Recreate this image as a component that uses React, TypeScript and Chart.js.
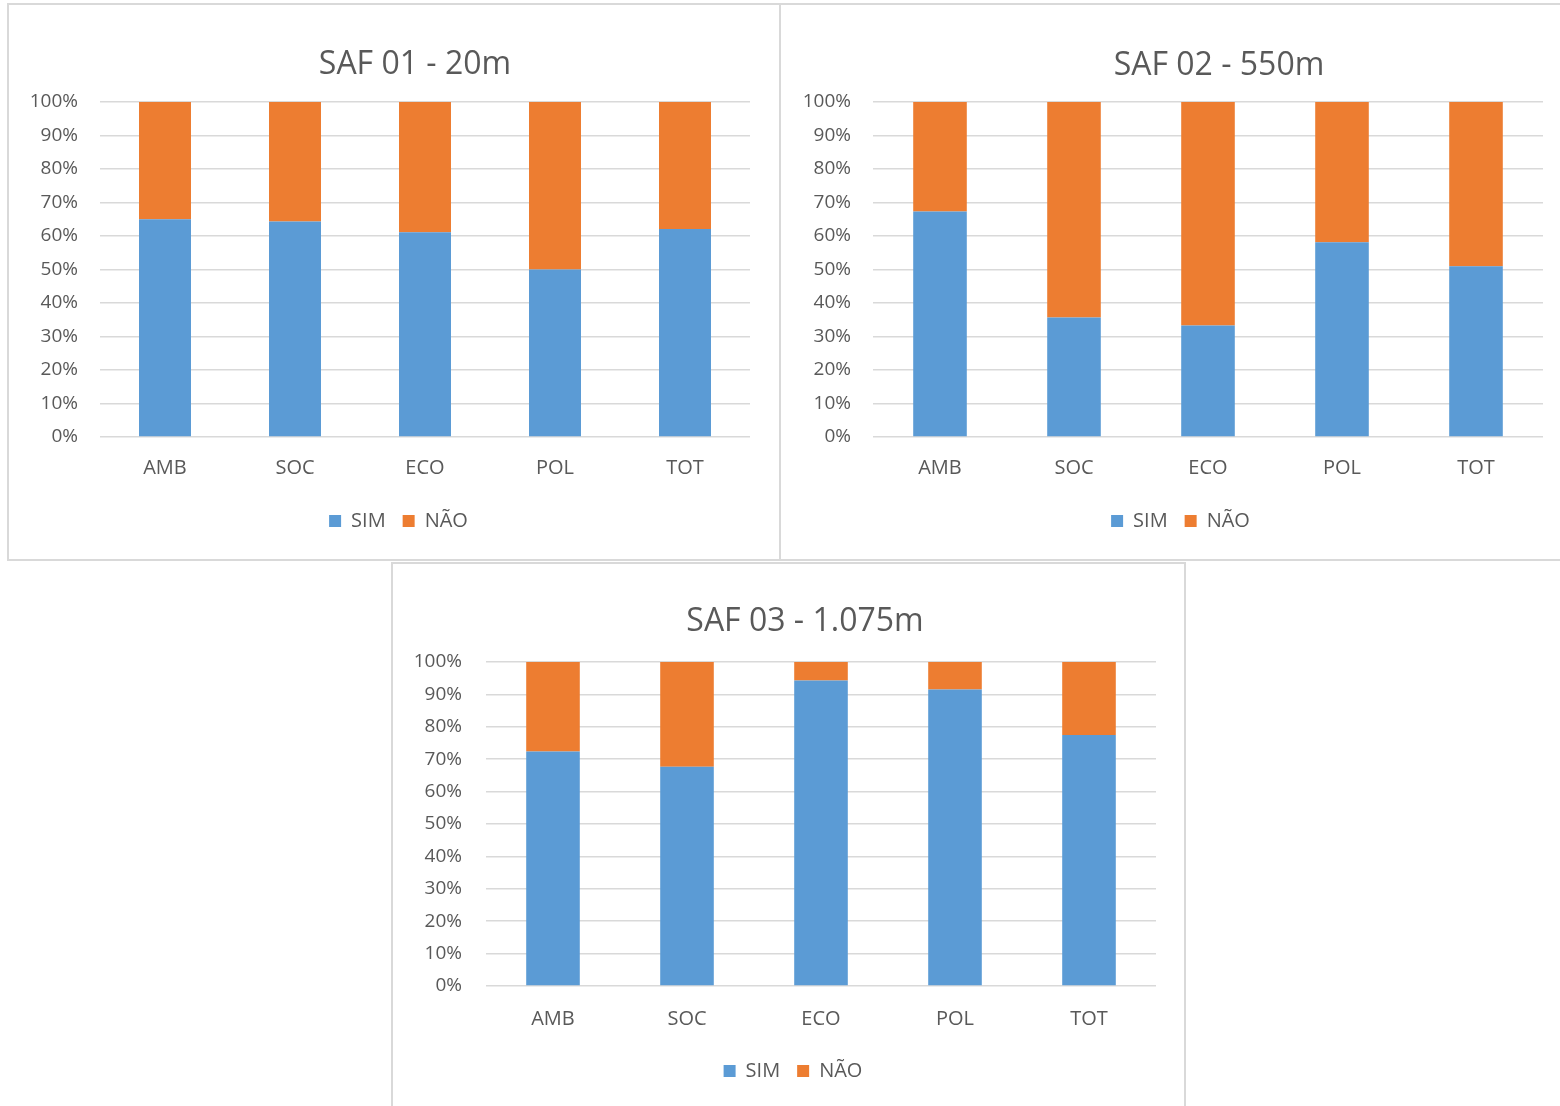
import React, { useEffect, useRef } from "react";
import { Chart, registerables } from "chart.js";

Chart.register(...registerables);

// Categories and series shared by the three SAF panels
const categories = ["AMB", "SOC", "ECO", "POL", "TOT"];
const seriesNames = ["SIM", "NÃO"];

// Share of answers (%) per category
const saf01Sim = [65.0, 64.3, 61.1, 50.0, 62.1];
const saf01Nao = [35.0, 35.7, 38.9, 50.0, 37.9];

const saf02Sim = [67.3, 35.7, 33.3, 58.1, 51.0];
const saf02Nao = [32.7, 64.3, 66.7, 41.9, 49.0];

const saf03Sim = [72.4, 67.7, 94.3, 91.5, 77.5];
const saf03Nao = [27.6, 32.3, 5.7, 8.5, 22.5];

// Value axis: 0% .. 100% every 10%
const yMin = 0;
const yMax = 100;
const yStep = 10;

const FONT = "'Open Sans', 'Noto Sans', sans-serif";
const TEXT = "#595959";
const GRID = "#d9d9d9";
const BLUE = "#5b9bd5";
const ORANGE = "#ed7d31";

type Layout = {
  left: number;
  top: number;
  width: number;
  height: number;
  canvasWidth: number;
  canvasHeight: number;
  titleX: number;
  titleY: number;
  padR: number;
  padT: number;
  padB: number;
  yAxisWidth: number;
  rightGutter: number;
  xAxisHeight: number;
  yTickPad: number;
  xTickPad: number;
};

type PanelProps = {
  title: string;
  sim: number[];
  nao: number[];
  layout: Layout;
};

function StackedPanel({ title, sim, nao, layout }: PanelProps) {
  const canvasRef = useRef<HTMLCanvasElement | null>(null);

  useEffect(() => {
    const canvas = canvasRef.current;
    if (!canvas) return;
    const chart = new Chart(canvas, {
      type: "bar",
      data: {
        labels: categories,
        datasets: [
          {
            label: seriesNames[0],
            data: sim,
            backgroundColor: BLUE,
            borderWidth: 0,
            barPercentage: 0.4,
            categoryPercentage: 1,
          },
          {
            label: seriesNames[1],
            data: nao,
            backgroundColor: ORANGE,
            borderWidth: 0,
            barPercentage: 0.4,
            categoryPercentage: 1,
          },
        ],
      },
      options: {
        responsive: false,
        animation: false,
        layout: {
          padding: {
            left: 0,
            right: layout.padR,
            top: layout.padT,
            bottom: layout.padB,
          },
        },
        plugins: {
          title: { display: false },
          tooltip: { enabled: false },
          legend: {
            display: true,
            position: "bottom",
            labels: {
              boxWidth: 12,
              boxHeight: 12,
              padding: 17,
              color: TEXT,
              font: { family: FONT, size: 20 },
            },
          },
        },
        scales: {
          x: {
            stacked: true,
            grid: { display: false, drawTicks: false },
            border: { display: false },
            ticks: {
              color: TEXT,
              padding: layout.xTickPad,
              font: { family: FONT, size: 20 },
            },
            afterFit: (scale: any) => {
              scale.height = layout.xAxisHeight;
            },
          },
          y: {
            stacked: true,
            min: yMin,
            max: yMax,
            grid: { color: GRID, lineWidth: 1.5, drawTicks: false },
            border: { display: false },
            ticks: {
              stepSize: yStep,
              color: TEXT,
              padding: layout.yTickPad,
              font: { family: FONT, size: 19 },
              callback: (v: any) => `${v}%`,
            },
            afterFit: (scale: any) => {
              scale.width = layout.yAxisWidth;
            },
          },
          // empty gutter on the right of the plot area
          gutter: {
            type: "linear",
            position: "right",
            display: true,
            grid: { display: false, drawTicks: false },
            border: { display: false },
            ticks: { display: false },
            afterFit: (scale: any) => {
              scale.width = layout.rightGutter;
            },
          },
        },
      },
    });
    return () => chart.destroy();
  }, [sim, nao, layout]);

  return (
    <>
      <div
        style={{
          position: "absolute",
          left: layout.left,
          top: layout.top,
          width: layout.width,
          height: layout.height,
          border: `2px solid ${GRID}`,
          boxSizing: "border-box",
          background: "#fff",
        }}
      >
        <canvas
          ref={canvasRef}
          width={layout.canvasWidth}
          height={layout.canvasHeight}
          style={{ display: "block", width: layout.canvasWidth, height: layout.canvasHeight }}
        />
      </div>
      <div
        style={{
          position: "absolute",
          left: layout.titleX,
          top: layout.titleY - 21,
          transform: "translateX(-50%)",
          fontFamily: FONT,
          fontSize: 32,
          lineHeight: "40px",
          color: TEXT,
          whiteSpace: "nowrap",
        }}
      >
        {title}
      </div>
    </>
  );
}

const layout01: Layout = {
  left: 7, top: 3, width: 775, height: 558, canvasWidth: 780, canvasHeight: 554,
  titleX: 415, titleY: 63,
  padR: 1, padT: 97, padB: 18,
  yAxisWidth: 91, rightGutter: 38, xAxisHeight: 57, yTickPad: 22, xTickPad: 19,
};

const layout02: Layout = {
  left: 779, top: 3, width: 803, height: 558, canvasWidth: 799, canvasHeight: 554,
  titleX: 1219, titleY: 64,
  padR: 0, padT: 97, padB: 18,
  yAxisWidth: 92, rightGutter: 37, xAxisHeight: 57, yTickPad: 22, xTickPad: 19,
};

const layout03: Layout = {
  left: 391, top: 562, width: 795, height: 600, canvasWidth: 800, canvasHeight: 542,
  titleX: 805, titleY: 620,
  padR: 0, padT: 98, padB: 15,
  yAxisWidth: 93, rightGutter: 37, xAxisHeight: 58, yTickPad: 24, xTickPad: 21,
};

export default function App() {
  return (
    <div
      style={{
        position: "absolute",
        left: 0,
        top: 0,
        width: 1560,
        height: 1106,
        overflow: "hidden",
        background: "#fff",
      }}
    >
      <StackedPanel title="SAF 01 - 20m" sim={saf01Sim} nao={saf01Nao} layout={layout01} />
      <StackedPanel title="SAF 02 - 550m" sim={saf02Sim} nao={saf02Nao} layout={layout02} />
      <StackedPanel title="SAF 03 - 1.075m" sim={saf03Sim} nao={saf03Nao} layout={layout03} />
    </div>
  );
}
